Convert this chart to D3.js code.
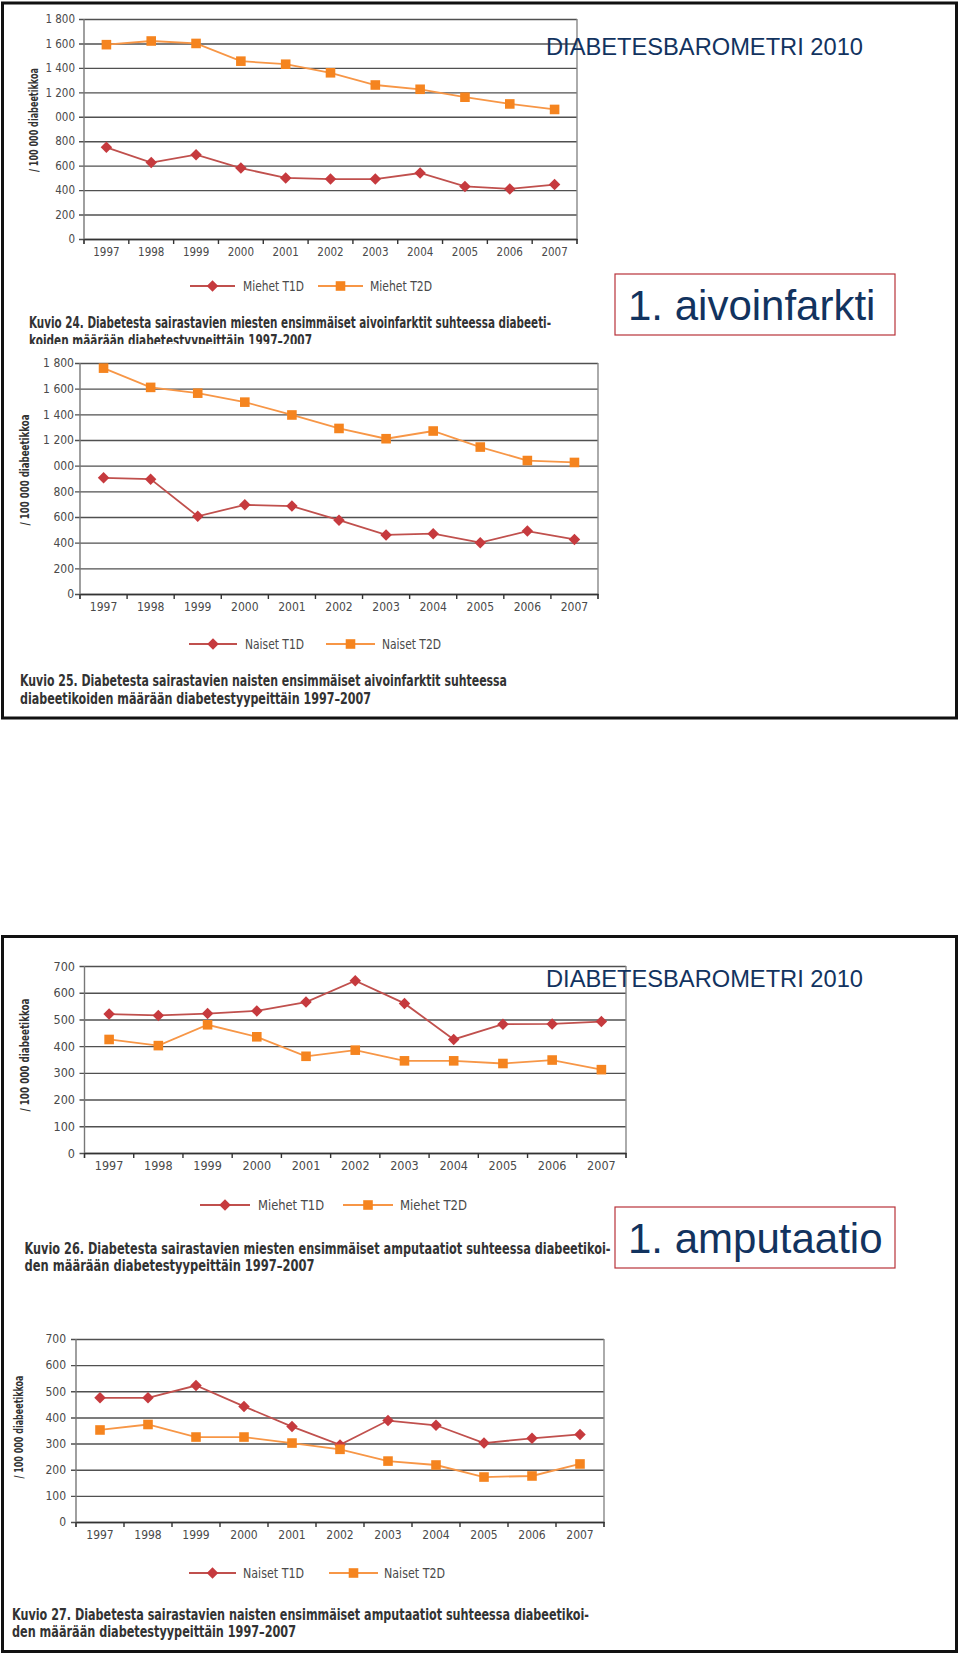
<!DOCTYPE html>
<html>
<head>
<meta charset="utf-8">
<script src="https://cdn.jsdelivr.net/npm/d3@7"></script>
<style>
  body { margin: 0; background: #fff; }
  svg text { font-family: "Liberation Sans Narrow", "DejaVu Sans Condensed", "Arial Narrow", sans-serif; }
  .slidetext { font-family: "Liberation Sans", Arial, sans-serif !important; fill: #12335f; }
</style>
</head>
<body>
<div id="page"></div>
<script>
var years = ["1997", "1998", "1999", "2000", "2001", "2002", "2003", "2004", "2005", "2006", "2007"];

// y ticks
var infarktTicks = [0, 200, 400, 600, 800, 1000, 1200, 1400, 1600, 1800];
var infarktTickLabels = ["0", "200", "400", "600", "800", "000", "1 200", "1 400", "1 600", "1 800"];
var amputTicks = [0, 100, 200, 300, 400, 500, 600, 700];
var amputTickLabels = ["0", "100", "200", "300", "400", "500", "600", "700"];

// Kuvio 24 - miehet, aivoinfarkti
var miehetInfT1D = [750, 625, 690, 580, 500, 490, 490, 540, 430, 410, 445];
var miehetInfT2D = [1590, 1620, 1600, 1455, 1430, 1360, 1260, 1225, 1160, 1105, 1060];
// Kuvio 25 - naiset, aivoinfarkti
var naisetInfT1D = [905, 895, 605, 695, 685, 575, 460, 470, 400, 490, 425];
var naisetInfT2D = [1760, 1610, 1565, 1495, 1395, 1290, 1210, 1270, 1145, 1040, 1025];
// Kuvio 26 - miehet, amputaatio
var miehetAmpT1D = [520, 515, 522, 532, 565, 645, 560, 425, 482, 483, 492];
var miehetAmpT2D = [425, 402, 480, 435, 362, 385, 345, 345, 335, 348, 312];
// Kuvio 27 - naiset, amputaatio
var naisetAmpT1D = [475, 475, 522, 442, 365, 295, 388, 370, 302, 320, 335];
var naisetAmpT2D = [352, 373, 325, 325, 302, 278, 233, 218, 172, 176, 222];

var t1dLine = "#c0504d", t1dMark = "#c63a3e";
var t2dLine = "#f79646", t2dMark = "#f5841f";

var svg = d3.select("#page").append("svg")
    .attr("width", 960)
    .attr("height", 1654);

var diamond = {
    draw: function(ctx, size) {
        var r = Math.sqrt(size / 2);
        ctx.moveTo(0, -r); ctx.lineTo(r, 0); ctx.lineTo(0, r); ctx.lineTo(-r, 0); ctx.closePath();
    }
};

function marker(kind) {
    return kind == "T1D" ? d3.symbol().type(diamond).size(66)() : d3.symbol().type(d3.symbolSquare).size(92)();
}

function lineChart(o) {
    var g = svg.append("g");

    var x = d3.scaleBand().domain(years).range([o.left, o.right]);
    var y = d3.scaleLinear().domain([0, o.max]).range([o.bottom, o.top]);
    var cx = function(d, i) { return x(years[i]) + x.bandwidth() / 2; };

    // gridlines + y labels
    g.append("g")
        .attr("transform", "translate(" + (o.left - 5) + ",0)")
        .call(d3.axisLeft(y)
            .tickValues(o.ticks)
            .tickSize(-(o.right - o.left + 5))
            .tickPadding(o.gap - 5)
            .tickFormat(function(d, i) { return o.tickLabels[i]; }))
        .call(function(a) { a.select(".domain").remove(); })
        .call(function(a) {
            a.selectAll("line").attr("stroke", "#505050").attr("stroke-width", 1.4);
            a.selectAll("text").attr("font-size", o.fs).attr("fill", "#4a4a4a");
        });

    g.append("line").attr("x1", o.left).attr("x2", o.left).attr("y1", o.top).attr("y2", o.bottom + 5)
        .attr("stroke", "#777").attr("stroke-width", 1.4);
    g.append("line").attr("x1", o.right).attr("x2", o.right).attr("y1", o.top).attr("y2", o.bottom + 5)
        .attr("stroke", "#888").attr("stroke-width", 1.4);

    // x axis
    g.append("g")
        .attr("transform", "translate(0," + o.bottom + ")")
        .call(d3.axisBottom(x).tickSize(0).tickPadding(8.5))
        .call(function(a) {
            a.select(".domain").attr("stroke", "#333").attr("stroke-width", 1.6);
            a.selectAll("text").attr("font-size", o.fs).attr("fill", "#4a4a4a");
        });

    g.selectAll(".xtick")
        .data(years.map(function(d) { return x(d); }).concat([o.right]))
        .enter().append("line")
        .attr("x1", function(d) { return d; }).attr("x2", function(d) { return d; })
        .attr("y1", o.bottom).attr("y2", o.bottom + 5)
        .attr("stroke", "#333").attr("stroke-width", 1.4);

    // series
    var line = d3.line().x(cx).y(function(d) { return y(d); });

    o.series.forEach(function(s) {
        g.append("path")
            .attr("d", line(s.values))
            .attr("fill", "none")
            .attr("stroke", s.kind == "T1D" ? t1dLine : t2dLine)
            .attr("stroke-width", 1.8);

        g.selectAll(".m" + s.kind)
            .data(s.values)
            .enter().append("path")
            .attr("transform", function(d, i) { return "translate(" + cx(d, i) + "," + y(d) + ")"; })
            .attr("d", marker(s.kind))
            .attr("fill", s.kind == "T1D" ? t1dMark : t2dMark);
    });

    // legend
    o.legend.forEach(function(l, i) {
        var s = o.series[i];
        var col = s.kind == "T1D" ? t1dLine : t2dLine;
        g.append("line").attr("x1", l.x0).attr("x2", l.x1).attr("y1", o.legendY).attr("y2", o.legendY)
            .attr("stroke", col).attr("stroke-width", 1.8);
        g.append("path")
            .attr("transform", "translate(" + (l.x0 + l.x1) / 2 + "," + o.legendY + ")")
            .attr("d", marker(s.kind))
            .attr("fill", s.kind == "T1D" ? t1dMark : t2dMark);
        g.append("text")
            .attr("x", l.tx).attr("y", o.legendY + 5)
            .attr("font-size", o.fs + 2)
            .attr("fill", "#4a4a4a")
            .attr("textLength", l.tw).attr("lengthAdjust", "spacingAndGlyphs")
            .text(s.name);
    });

    // y title
    g.append("text")
        .attr("transform", "translate(" + o.titleX + "," + o.titleY + ") rotate(-90)")
        .attr("text-anchor", "middle")
        .attr("dy", "0.35em")
        .attr("font-size", 12)
        .attr("font-weight", "bold")
        .attr("fill", "#333")
        .attr("textLength", o.titleW).attr("lengthAdjust", "spacingAndGlyphs")
        .text("/ 100 000 diabeetikkoa");

    // caption
    o.caption.forEach(function(c) {
        g.append("text")
            .attr("x", o.capX).attr("y", c.y)
            .attr("font-size", 15)
            .attr("font-weight", "bold")
            .attr("fill", "#333")
            .attr("textLength", c.w).attr("lengthAdjust", "spacingAndGlyphs")
            .text(c.text);
    });
}

function slideFrame(y) {
    svg.append("rect")
        .attr("x", 2.5).attr("y", y).attr("width", 954).attr("height", 715)
        .attr("fill", "none").attr("stroke", "#111").attr("stroke-width", 3);
}

function slideTitles(y, label, boxY) {
    svg.append("text").attr("class", "slidetext")
        .attr("x", 546).attr("y", y)
        .attr("font-size", 24)
        .attr("textLength", 317).attr("lengthAdjust", "spacingAndGlyphs")
        .text("DIABETESBAROMETRI 2010");
    svg.append("rect")
        .attr("x", 615).attr("y", boxY).attr("width", 280).attr("height", 61)
        .attr("fill", "#fff").attr("stroke", "#b8323a").attr("stroke-width", 1.2);
    svg.append("text").attr("class", "slidetext")
        .attr("x", 628).attr("y", boxY + 46)
        .attr("font-size", 42)
        .text(label);
}

// ---- slide 1: aivoinfarkti
lineChart({
    left: 84, right: 577, top: 19, bottom: 239, max: 1800, gap: 9, fs: 11.5,
    ticks: infarktTicks, tickLabels: infarktTickLabels,
    series: [{ name: "Miehet T1D", kind: "T1D", values: miehetInfT1D },
             { name: "Miehet T2D", kind: "T2D", values: miehetInfT2D }],
    legendY: 286,
    legend: [{ x0: 190, x1: 235, tx: 243, tw: 61 }, { x0: 318, x1: 363, tx: 370, tw: 62 }],
    titleX: 34, titleY: 120, titleW: 104,
    capX: 29,
    caption: [{ y: 328, w: 522, text: "Kuvio 24. Diabetesta sairastavien miesten ensimmäiset aivoinfarktit suhteessa diabeeti-" },
              { y: 346, w: 283, text: "koiden määrään diabetestyypeittäin 1997–2007" }]
});

// chart 25 image covers the end of the previous caption
svg.append("rect").attr("x", 5).attr("y", 344).attr("width", 610).attr("height", 16).attr("fill", "#fff");

lineChart({
    left: 80, right: 598, top: 363, bottom: 594, max: 1800, gap: 6, fs: 12,
    ticks: infarktTicks, tickLabels: infarktTickLabels,
    series: [{ name: "Naiset T1D", kind: "T1D", values: naisetInfT1D },
             { name: "Naiset T2D", kind: "T2D", values: naisetInfT2D }],
    legendY: 644,
    legend: [{ x0: 189, x1: 237, tx: 245, tw: 59 }, { x0: 326, x1: 375, tx: 382, tw: 59 }],
    titleX: 24.5, titleY: 470, titleW: 111,
    capX: 20,
    caption: [{ y: 686, w: 487, text: "Kuvio 25. Diabetesta sairastavien naisten ensimmäiset aivoinfarktit suhteessa" },
              { y: 704, w: 351, text: "diabeetikoiden määrään diabetestyypeittäin 1997–2007" }]
});

slideTitles(55, "1. aivoinfarkti", 274);
slideFrame(3);

// ---- slide 2: amputaatio
lineChart({
    left: 84.5, right: 626, top: 966, bottom: 1153, max: 700, gap: 9.5, fs: 12.5,
    ticks: amputTicks, tickLabels: amputTickLabels,
    series: [{ name: "Miehet T1D", kind: "T1D", values: miehetAmpT1D },
             { name: "Miehet T2D", kind: "T2D", values: miehetAmpT2D }],
    legendY: 1205,
    legend: [{ x0: 200, x1: 250, tx: 258, tw: 66 }, { x0: 343, x1: 393, tx: 400, tw: 67 }],
    titleX: 25, titleY: 1055, titleW: 113,
    capX: 24.5,
    caption: [{ y: 1254, w: 586, text: "Kuvio 26. Diabetesta sairastavien miesten ensimmäiset amputaatiot suhteessa diabeetikoi-" },
              { y: 1271, w: 290, text: "den määrään diabetestyypeittäin 1997–2007" }]
});

lineChart({
    left: 76, right: 604, top: 1339, bottom: 1522, max: 700, gap: 10, fs: 12,
    ticks: amputTicks, tickLabels: amputTickLabels,
    series: [{ name: "Naiset T1D", kind: "T1D", values: naisetAmpT1D },
             { name: "Naiset T2D", kind: "T2D", values: naisetAmpT2D }],
    legendY: 1573,
    legend: [{ x0: 189, x1: 236, tx: 243, tw: 61 }, { x0: 329, x1: 378, tx: 384, tw: 61 }],
    titleX: 18.6, titleY: 1427, titleW: 103,
    capX: 12,
    caption: [{ y: 1620, w: 577, text: "Kuvio 27. Diabetesta sairastavien naisten ensimmäiset amputaatiot suhteessa diabeetikoi-" },
              { y: 1637, w: 284, text: "den määrään diabetestyypeittäin 1997–2007" }]
});

slideTitles(987, "1. amputaatio", 1207);
slideFrame(936.5);
</script>
</body>
</html>
